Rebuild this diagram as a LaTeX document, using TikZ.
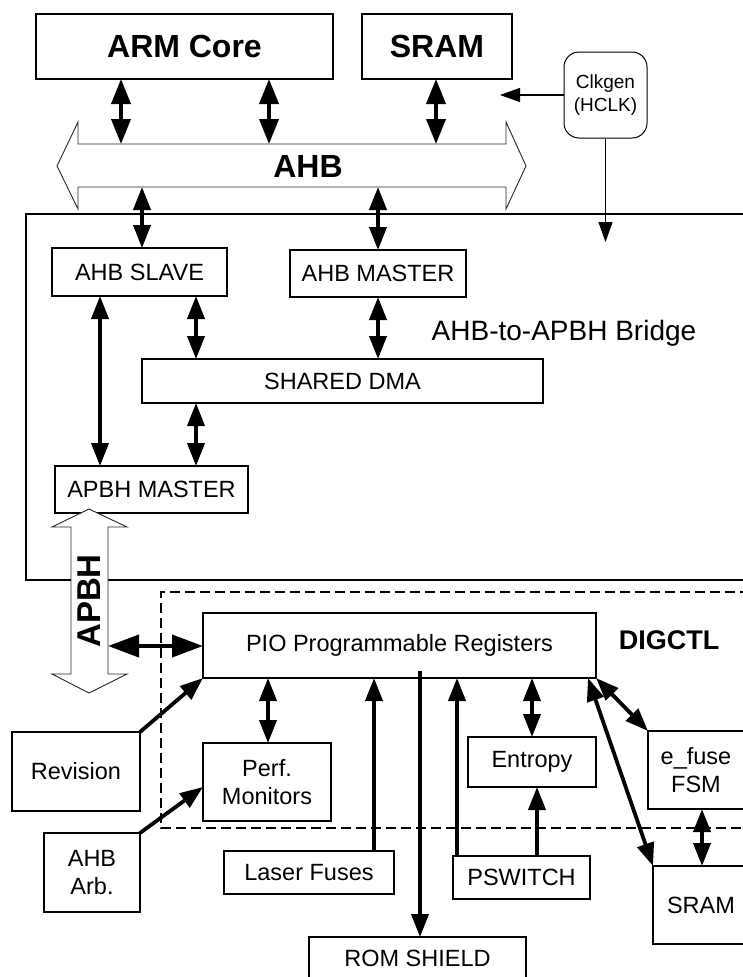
\documentclass[tikz,border=0pt]{standalone}
\usepackage{fontspec}
\setmainfont{Liberation Sans}
\usetikzlibrary{arrows.meta}
\begin{document}
\begin{tikzpicture}[x=1pt,y=-1pt,
  box/.style={draw, line width=2pt, inner sep=0pt, outer sep=0pt, align=center,
    font=\fontsize{23.5}{28}\selectfont},
  topbox/.style={draw, line width=1.2pt, inner sep=0pt, outer sep=0pt,
    font=\fontsize{32}{36}\selectfont\bfseries},
  dblarr/.style={line width=3.8pt, {Triangle[length=23pt,width=17pt]}-{Triangle[length=23pt,width=17pt]}},
  toparr/.style={line width=3.8pt, {Triangle[length=25pt,width=19pt]}-{Triangle[length=25pt,width=19pt]}},
  bigarr/.style={line width=4pt, {Triangle[length=31pt,width=22pt]}-{Triangle[length=31pt,width=22pt]}},
  sglarr/.style={line width=3.8pt, -{Triangle[length=23pt,width=17pt]}},
  thinarr/.style={line width=1.2pt, -{Triangle[length=20pt,width=14pt]}},
  busline/.style={draw=black!85, line width=0.9pt, fill=white},
]
\useasboundingbox (0,0) rectangle (743,977);
\clip (0,0) rectangle (743,977);

% ---------- top level ----------
\node[topbox, minimum width=297pt, minimum height=65pt] (arm) at (184.5,46.5) {ARM Core};
\node[topbox, minimum width=150pt, minimum height=65pt] (sram) at (437,46.5) {SRAM};
\node[draw, line width=1pt, rounded corners=15pt, minimum width=83pt, minimum height=86pt,
      inner sep=0pt, align=center, font=\fontsize{19}{23}\selectfont] (clk) at (605.5,95) {Clkgen\\(HCLK)};

% AHB bus
\draw[busline] (57,166) -- (78,122) -- (78,144) -- (506,144) -- (506,122) -- (526,166)
  -- (506,209) -- (506,187) -- (78,187) -- (78,209) -- cycle;
\node[font=\fontsize{32}{36}\selectfont\bfseries] (ahb) at (308,166) {AHB};
\coordinate (bt1) at (121,144);
\coordinate (bt2) at (269,144);
\coordinate (bt3) at (436,144);
\coordinate (bb1) at (142,187);
\coordinate (bb2) at (378,187);

% bridge frame
\draw[line width=1.4pt] (750,214) -- (26,214) -- (26,580) -- (750,580);
\node[font=\fontsize{28}{32}\selectfont] (bridge) at (564,333) {AHB-to-APBH Bridge};

\node[box, minimum width=175pt, minimum height=48pt] (slave) at (139.5,272) {AHB SLAVE};
\node[box, minimum width=176pt, minimum height=47pt] (master) at (378,273.5) {AHB MASTER};
\node[box, minimum width=401pt, minimum height=44pt] (dma) at (342.5,381) {SHARED DMA};
\node[box, minimum width=193pt, minimum height=47pt] (apbhm) at (151.5,489.5) {APBH MASTER};

% DIGCTL frame
\draw[line width=2pt, dash pattern=on 10pt off 5pt] (750,592) -- (161,592) -- (161,828) -- (750,828);
\node[font=\fontsize{27}{32}\selectfont\bfseries] (digctl) at (669,640) {DIGCTL};

% APBH bus
\draw[busline] (89,509) -- (127,527) -- (108,527) -- (108,674) -- (127,674) -- (89,693)
  -- (52,674) -- (71,674) -- (71,527) -- (52,527) -- cycle;
\node[rotate=90, font=\fontsize{33}{36}\selectfont\bfseries] (apbh) at (89,601) {APBH};
\coordinate (apr) at (108,646);

\node[box, minimum width=393pt, minimum height=65pt] (pio) at (399.5,645.5) {PIO Programmable Registers};
\node[box, minimum width=128pt, minimum height=79pt] (rev) at (76,771.5) {Revision};
\node[box, minimum width=128pt, minimum height=78pt] (perf) at (267,782) {Perf.\\Monitors};
\node[box, minimum width=96pt, minimum height=79pt] (arb) at (92,872.5) {AHB\\Arb.};
\node[box, minimum width=170pt, minimum height=43pt] (laser) at (309,872.5) {Laser Fuses};
\node[box, minimum width=217pt, minimum height=42pt] (rom) at (417.5,958) {ROM SHIELD};
\node[box, minimum width=137pt, minimum height=43pt] (psw) at (521.5,877.5) {PSWITCH};
\node[box, minimum width=128pt, minimum height=50pt] (ent) at (532,762) {Entropy};
\node[box, minimum width=96pt, minimum height=78pt] (efuse) at (696,770) {e\_fuse\\FSM};
\node[box, minimum width=96pt, minimum height=78pt] (sram2) at (701,905) {SRAM};

% x helpers
\coordinate (x100) at (100,0);
\coordinate (x196) at (196,0);
\coordinate (x268) at (268,0);
\coordinate (x374) at (374,0);
\coordinate (x457) at (457,0);
\coordinate (x532) at (532,0);
\coordinate (x537) at (537,0);
\coordinate (x702) at (702,0);
\coordinate (romtop) at (420,671);
\coordinate (clkin) at (500,95);
\coordinate (clkdown) at (605.5,242);

% ---------- connectors ----------
\draw[toparr] (arm.south -| bt1) -- (bt1);
\draw[toparr] (arm.south -| bt2) -- (bt2);
\draw[toparr] (sram.south -| bt3) -- (bt3);
\draw[thinarr] (clk.west) -- (clkin);
\draw[thinarr] (clk.south) -- (clkdown);

\draw[dblarr] (bb1) -- (slave.north -| bb1);
\draw[dblarr] (bb2) -- (master.north -| bb2);
\draw[dblarr] (slave.south -| x196) -- (dma.north -| x196);
\draw[dblarr] (master.south) -- (dma.north -| master.south);
\draw[dblarr] (slave.south -| x100) -- (apbhm.north -| x100);
\draw[dblarr] (dma.south -| x196) -- (apbhm.north -| x196);

\draw[bigarr] (apr) -- (pio.west |- apr);
\draw[sglarr] (rev.north east) -- (pio.south west);
\draw[dblarr] (pio.south -| x268) -- (perf.north -| x268);
\draw[sglarr] (arb.north east) -- ([yshift=-5pt]perf.west);
\draw[sglarr] (laser.north -| x374) -- (pio.south -| x374);
\draw[sglarr] (romtop) -- (rom.north -| romtop);
\draw[sglarr] (psw.north -| x457) -- (pio.south -| x457);
\draw[dblarr] (pio.south -| x532) -- (ent.north -| x532);
\draw[sglarr] (psw.north -| x537) -- (ent.south -| x537);
\draw[dblarr] (pio.south east) -- (efuse.north west);
\draw[dblarr] ([xshift=-8pt]pio.south east) -- (sram2.north west);
\draw[dblarr] (efuse.south -| x702) -- (sram2.north -| x702);
\end{tikzpicture}
\end{document}
